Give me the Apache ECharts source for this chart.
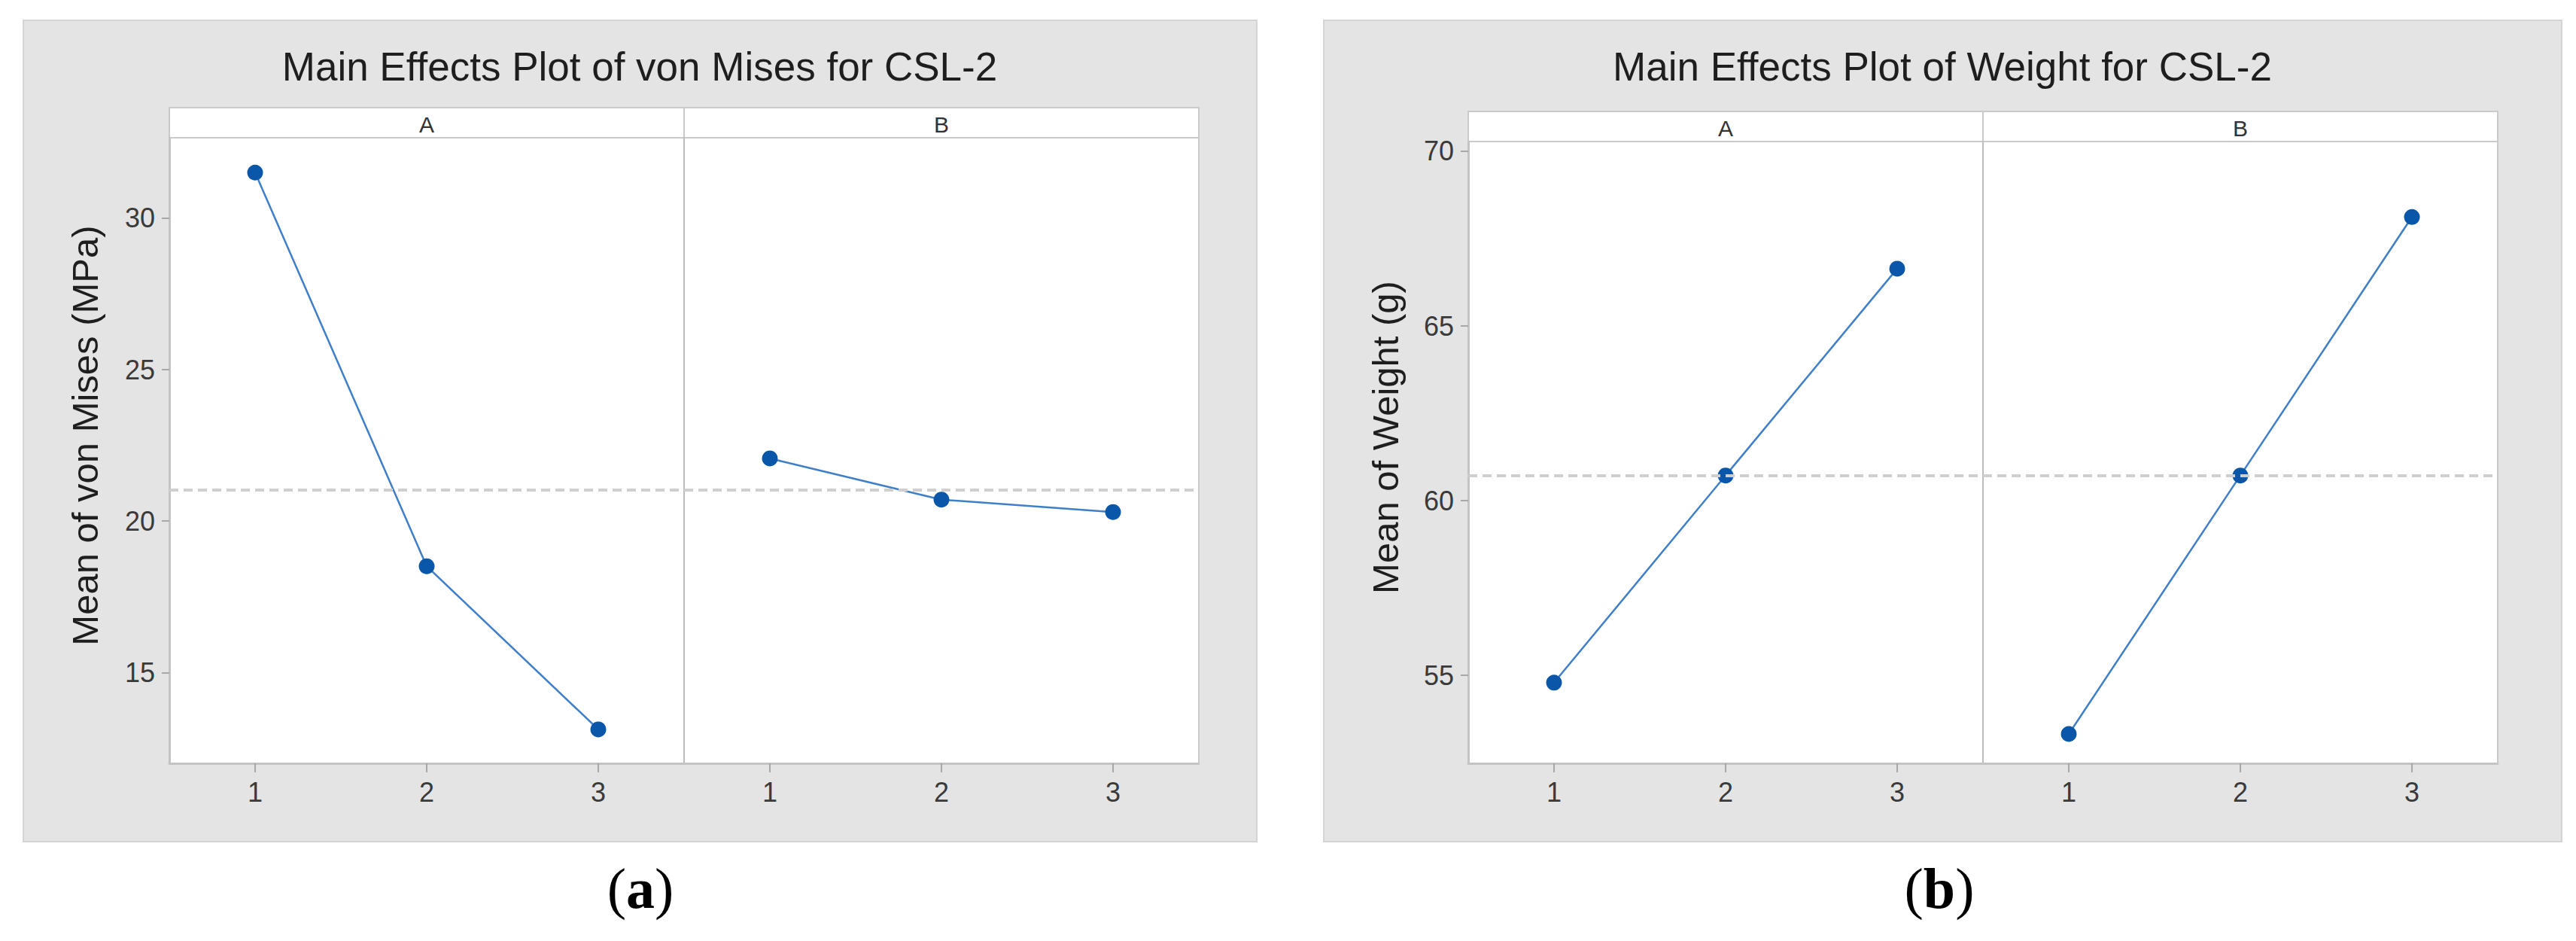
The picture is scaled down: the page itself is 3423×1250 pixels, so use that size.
<!DOCTYPE html>
<html>
<head>
<meta charset="utf-8">
<script src="https://cdn.jsdelivr.net/npm/echarts@6/dist/echarts.min.js"></script>
<style>
html,body{margin:0;padding:0;background:#fff;}
#chart{width:3423px;height:1250px;}
</style>
</head>
<body>
<div id="chart"></div>
<script>
// ---------- data ----------
const levels = ['1', '2', '3'];
const factors = ['A', 'B'];
const titles = ['Main Effects Plot of von Mises for CSL-2', 'Main Effects Plot of Weight for CSL-2'];
const yNames = ['Mean of von Mises (MPa)', 'Mean of Weight (g)'];
const captionLetters = ['a', 'b'];

const vonMisesA = [31.51, 18.51, 13.12];
const vonMisesB = [22.07, 20.71, 20.30];
const vonMisesMean = 21.03;
const vonMisesRange = [12, 32.66];
const vonMisesTicks = [15, 20, 25, 30];

const weightA = [54.79, 60.72, 66.64];
const weightB = [53.32, 60.72, 68.12];
const weightMean = 60.72;
const weightRange = [52.48, 70.28];
const weightTicks = [55, 60, 65, 70];

// ---------- layout (pixels) ----------
const FONT = 'Liberation Sans, Arial, sans-serif';
const layouts = [
  { bg: [31, 27, 1639, 1091], plotLeft: 225, plotTop: 183, stripTop: 143, facetW: 684, plotBottom: 1014, titleX: 850, nameX: 113, capX: 851 },
  { bg: [1759, 27, 1645, 1091], plotLeft: 1951, plotTop: 188, stripTop: 148, facetW: 684, plotBottom: 1014, titleX: 2581, nameX: 1841, capX: 2577 }
];
const panelData = [
  { facets: [vonMisesA, vonMisesB], mean: vonMisesMean, range: vonMisesRange, ticks: vonMisesTicks },
  { facets: [weightA, weightB], mean: weightMean, range: weightRange, ticks: weightTicks }
];

const grids = [], xAxes = [], yAxes = [], series = [], graphics = [];

layouts.forEach((L, p) => {
  const D = panelData[p];
  graphics.push({
    type: 'rect', z: -10, silent: true,
    shape: { x: L.bg[0], y: L.bg[1], width: L.bg[2], height: L.bg[3] },
    style: { fill: '#e4e4e4', stroke: '#d4d4d4', lineWidth: 2 }
  });
  graphics.push({
    type: 'text', x: L.titleX, y: 88, silent: true,
    style: { text: titles[p], fontSize: 53, fontFamily: FONT, fill: '#1e1e1e', align: 'center', verticalAlign: 'middle' }
  });
  graphics.push({
    type: 'text', x: L.nameX, y: (L.stripTop + L.plotBottom) / 2, rotation: Math.PI / 2, silent: true,
    style: { text: yNames[p], fontSize: 49, fontFamily: FONT, fill: '#1e1e1e', align: 'center', verticalAlign: 'middle' }
  });
  graphics.push({
    type: 'text', x: L.capX, y: 1180, silent: true,
    style: {
      text: '{n|(}{b|' + captionLetters[p] + '}{n|)}',
      align: 'center', verticalAlign: 'middle',
      rich: {
        n: { fontSize: 76, fontFamily: 'Liberation Serif, Times New Roman, serif', fontWeight: 'normal', fill: '#000' },
        b: { fontSize: 76, fontFamily: 'Liberation Serif, Times New Roman, serif', fontWeight: 'bold', fill: '#000' }
      }
    }
  });

  factors.forEach((fac, f) => {
    const left = L.plotLeft + f * L.facetW;
    // plot grid
    const gi = grids.length;
    grids.push({
      left: left, top: L.plotTop, width: L.facetW, height: L.plotBottom - L.plotTop,
      show: true, backgroundColor: '#ffffff', borderColor: '#cacaca', borderWidth: 2, containLabel: false
    });
    xAxes.push({
      type: 'category', gridIndex: gi, data: levels, boundaryGap: true,
      axisLine: { show: true, lineStyle: { color: '#c4c4c4', width: 3 } },
      axisTick: { show: true, alignWithLabel: true, length: 12, lineStyle: { color: '#a8a8a8', width: 2 } },
      axisLabel: { margin: 20, fontSize: 36, fontFamily: FONT, color: '#3a3a3a' },
      splitLine: { show: false }
    });
    const yA = {
      type: 'value', gridIndex: gi, min: D.range[0], max: D.range[1], scale: true,
      splitLine: { show: false },
      axisLine: { show: true, lineStyle: { color: f === 0 ? '#c4c4c4' : '#bcbcbc', width: f === 0 ? 3 : 2 } }
    };
    if (f === 0) {
      yA.axisTick = { show: true, length: 10, customValues: D.ticks, lineStyle: { color: '#a8a8a8', width: 2 } };
      yA.axisLabel = { show: true, margin: 19, customValues: D.ticks, fontSize: 36, fontFamily: FONT, color: '#3a3a3a' };
    } else {
      yA.axisTick = { show: false };
      yA.axisLabel = { show: false };
    }
    yAxes.push(yA);
    series.push({
      type: 'line', xAxisIndex: gi, yAxisIndex: gi,
      data: D.facets[f],
      symbol: 'circle', symbolSize: 21, showSymbol: true,
      itemStyle: { color: '#0a56a8' },
      lineStyle: { color: '#3f7fca', width: 2.5 },
      z: 3,
      markLine: {
        silent: true, symbol: ['none', 'none'], animation: false,
        label: { show: false },
        lineStyle: { type: [12, 7], color: '#cfcfcf', width: 4 },
        data: [{ yAxis: D.mean }]
      }
    });

    // strip grid
    const si = grids.length;
    grids.push({
      left: left, top: L.stripTop, width: L.facetW, height: L.plotTop - L.stripTop,
      show: true, backgroundColor: '#ffffff', borderColor: '#cacaca', borderWidth: 2
    });
    xAxes.push({
      type: 'category', gridIndex: si, data: [fac], boundaryGap: true,
      axisLine: { show: false }, axisTick: { show: false }, splitLine: { show: false },
      axisLabel: { inside: true, margin: 18, verticalAlign: 'middle', fontSize: 30, fontFamily: FONT, color: '#333333' }
    });
    yAxes.push({ type: 'value', gridIndex: si, show: false, min: 0, max: 1 });
  });
});

const chart = echarts.init(document.getElementById('chart'), null, { renderer: 'svg', width: 3423, height: 1250 });
chart.setOption({
  backgroundColor: '#ffffff',
  animation: false,
  graphic: { elements: graphics },
  grid: grids,
  xAxis: xAxes,
  yAxis: yAxes,
  series: series
});
</script>
</body>
</html>
